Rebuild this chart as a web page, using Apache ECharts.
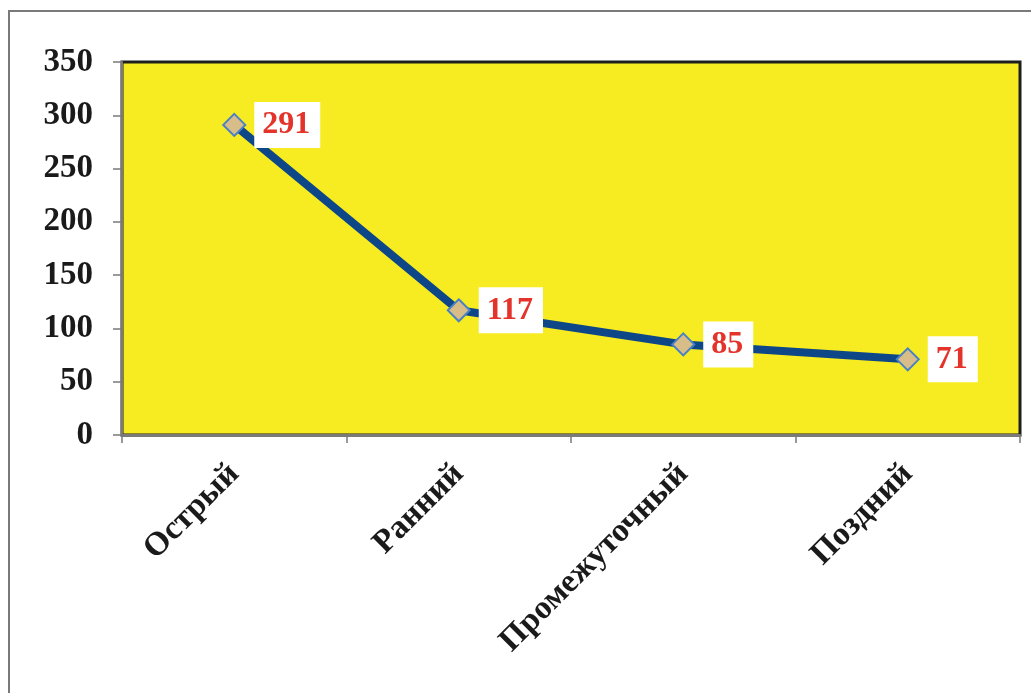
<!DOCTYPE html>
<html>
<head>
<meta charset="utf-8">
<script src="https://cdn.jsdelivr.net/npm/echarts@6/dist/echarts.min.js"></script>
<style>
  html, body { margin: 0; padding: 0; background: #ffffff; }
  #chart { width: 1031px; height: 693px; }
</style>
</head>
<body>
<div id="chart"></div>
<script>
// Periods and case counts
const categories = ['Острый', 'Ранний', 'Промежуточный', 'Поздний'];
const counts = [291, 117, 85, 71];
const yTicks = [0, 50, 100, 150, 200, 250, 300, 350];

const serif = '"Liberation Serif", "DejaVu Serif", serif';

const chart = echarts.init(document.getElementById('chart'), null, { renderer: 'canvas' });

chart.setOption({
  backgroundColor: '#ffffff',
  animation: false,
  graphic: [
    {
      type: 'rect',
      shape: { x: 9, y: 11, width: 1200, height: 900 },
      style: { fill: 'none', stroke: '#7a7a7a', lineWidth: 2 },
      z: 0
    }
  ],
  grid: {
    left: 122, top: 62, right: 11, bottom: 258,
    show: true,
    backgroundColor: '#f6ec21',
    borderColor: '#1e1e1e',
    borderWidth: 3
  },
  xAxis: {
    type: 'category',
    data: categories,
    boundaryGap: true,
    axisLine: { lineStyle: { color: '#7a7a7a', width: 3 } },
    axisTick: { show: true, length: 8, lineStyle: { color: '#7a7a7a', width: 1.5 } },
    axisLabel: {
      rotate: 45,
      margin: 34,
      color: '#1a1a1a',
      fontFamily: serif,
      fontWeight: 'bold',
      fontSize: 33
    },
    splitLine: { show: false }
  },
  yAxis: {
    type: 'value',
    min: yTicks[0],
    max: yTicks[yTicks.length - 1],
    interval: 50,
    axisLine: { show: true, lineStyle: { color: '#7a7a7a', width: 2 } },
    axisTick: { show: true, length: 9, lineStyle: { color: '#7a7a7a', width: 1.5 } },
    axisLabel: {
      margin: 29,
      color: '#1a1a1a',
      fontFamily: serif,
      fontWeight: 'bold',
      fontSize: 33
    },
    splitLine: { show: false }
  },
  series: [
    {
      type: 'line',
      data: counts,
      symbol: 'diamond',
      symbolSize: 22,
      lineStyle: { color: '#0d4787', width: 8 },
      itemStyle: { color: '#d8bd88', borderColor: '#4a80c4', borderWidth: 2 },
      label: {
        show: true,
        position: 'right',
        distance: 8,
        color: '#e3332a',
        fontFamily: serif,
        fontWeight: 'bold',
        fontSize: 32,
        backgroundColor: '#ffffff',
        padding: [8, 10, 6, 8]
      },
      z: 3
    }
  ]
});
</script>
</body>
</html>
